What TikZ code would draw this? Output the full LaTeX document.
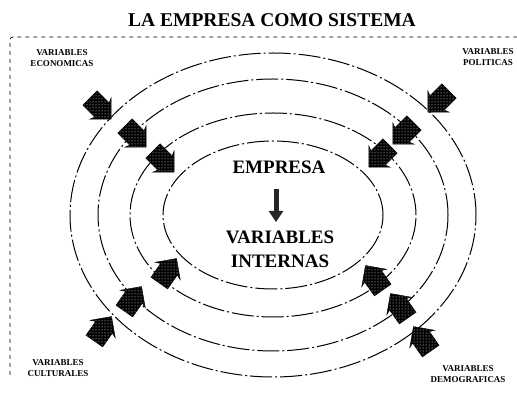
\documentclass[tikz,border=0pt]{standalone}
\usepackage{fontspec}
\setmainfont{Liberation Serif}
\usetikzlibrary{arrows.meta,positioning,shapes.arrows,patterns}

\begin{document}
\begin{tikzpicture}[
    x=1pt, y=1pt,
    ring/.style={line width=1pt, dash pattern=on 22pt off 3pt on 2pt off 3pt},
    frame/.style={line width=0.7pt, dash pattern=on 4pt off 4pt},
    push/.style={single arrow, draw=black, preaction={fill=black}, pattern=dots, pattern color=white,
        minimum height=30pt, single arrow head extend=5pt,
        single arrow head indent=2pt, inner xsep=0pt, inner ysep=10pt},
    tag/.style={font=\bfseries\fontsize{9}{11}\selectfont, align=center, inner sep=0pt},
    big/.style={font=\bfseries\fontsize{19}{24}\selectfont, align=center, inner sep=0pt}
]
\useasboundingbox (0,0) rectangle (517,393);
% title and frame
\node[big, font=\bfseries\fontsize{19.5}{24}\selectfont] (title) at (272,373) {LA EMPRESA COMO SISTEMA};
\coordinate (fbot) at (10,18);
\coordinate (fcorner) at (10,356);
\coordinate (fright) at (517,356);
\draw[frame, rounded corners=3pt] (fbot) -- (fcorner) -- (fright);
% rings round the company
\coordinate (core) at (273,178);
\draw[ring] (core) ellipse [x radius=110, y radius=74];
\draw[ring] (core) ellipse [x radius=143, y radius=102];
\draw[ring] (core) ellipse [x radius=175, y radius=136];
\draw[ring] (core) ellipse [x radius=203, y radius=162];
% centre
\node[big] (empresa) at (279,226) {EMPRESA};
\node[big] (internas) at (280,144) {VARIABLES\\INTERNAS};
\draw[line width=5pt, -{Triangle[width=14pt,length=11pt]}, black!85] (276,204) -- (276,171);
% outside variables
\node[tag] (eco) at (62,335) {VARIABLES\\ECONOMICAS};
\node[tag] (pol) at (488,336) {VARIABLES\\POLITICAS};
\node[tag] (cul) at (58,25) {VARIABLES\\CULTURALES};
\node[tag] (dem) at (468,19) {VARIABLES\\DEMOGRAFICAS};
% arrows pushing in
\node[push, rotate=-45] (eco1) at (97,288) {};
\node[push, rotate=-45] (eco2) at (132,260) {};
\node[push, rotate=-45] (eco3) at (160,235) {};
\node[push, rotate=-135] (pol1) at (442,295) {};
\node[push, rotate=-135] (pol2) at (407,263) {};
\node[push, rotate=-135] (pol3) at (383,240) {};
\node[push, rotate=55] (cul1) at (100,60) {};
\node[push, rotate=55] (cul2) at (130,90) {};
\node[push, rotate=55] (cul3) at (165,118) {};
\node[push, rotate=125] (dem1) at (425,50) {};
\node[push, rotate=125] (dem2) at (402,83) {};
\node[push, rotate=125] (dem3) at (377,111) {};
\end{tikzpicture}
\end{document}
